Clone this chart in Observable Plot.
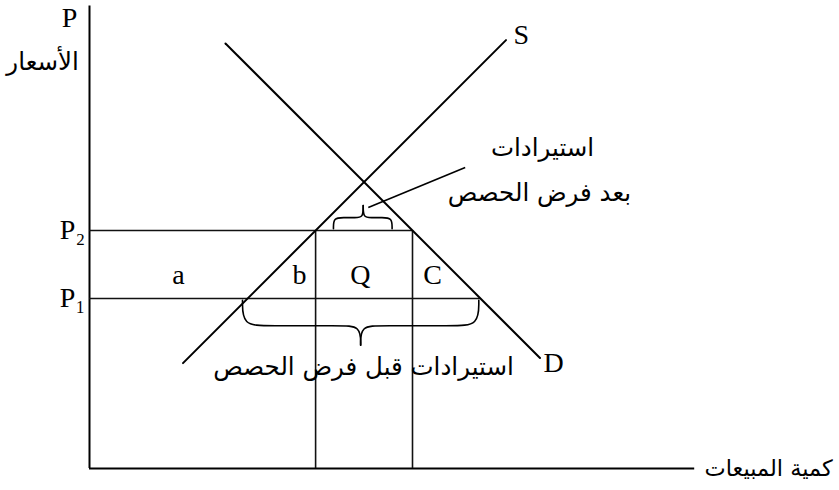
<!DOCTYPE html>
<html>
<head>
<meta charset="utf-8">
<script src="https://cdn.jsdelivr.net/npm/d3@7"></script>
<script src="https://cdn.jsdelivr.net/npm/@observablehq/plot@0.6"></script>
<style>
  html, body { margin: 0; padding: 0; background: #fff; }
  svg { display: block; }
</style>
</head>
<body>
<div id="chart"></div>
<script>
// ---- data (quantity q, price p) ----
const priceLevels = [14, 10];                 // P2, P1
const priceLabels = ["P\u2082", "P\u2081"];
const priceLineEnds = [19, 23];               // where P2 / P1 meet demand
const quotaQuantities = [13.3, 19];           // vertical lines at P2 (supply, demand)
const supplyQ = [5.5, 24.5];
const supplyP = [6.2, 25.2];
const demandQ = [8, 26.5];
const demandP = [25, 6.5];
const axisTopP = 27.2;
const axisEndQ = 35.6;
const areaLabels = ["a", "b", "Q", "C"];
const areaLabelQ = [5.24, 12.35, 15.94, 20.18];
const areaLabelP = 11.4;
// braces: [left q, tip q, right q, base p, middle p, tip p]
const lowerBrace = [9.0, 15.95, 22.9, 9.9, 8.4, 7.25];
const upperBrace = [14.35, 16.1, 17.8, 14.1, 14.76, 15.47];
const pointerQ = [16.4, 22.1];
const pointerP = [15.35, 17.7];
const curveNames = ["S", "D"];
const curveNameQ = [25.4, 27.3];
const curveNameP = [25.5, 6.2];
const textBefore = "استيرادات قبل فرض الحصص";
const textAfter1 = "استيرادات";
const textAfter2 = "بعد فرض الحصص";
const yTitle = "الأسعار";
const xTitle = "كمية المبيعات";

// ---- helper: brace outline points for a curve (shape only) ----
function braceHalves(b, id) {
  const [q0, qt, q1, base, mid, tip] = b;
  const r = Math.min(Math.abs(base - mid), (qt - q0) / 3);
  const half = (a, s) => [
    [a, base], [a, mid], [a + s * r, mid], [qt - s * r * 0.8, mid], [qt, mid], [qt, tip]
  ];
  return [
    ...half(q0, 1).map(([q, p]) => ({q, p, z: id + "L"})),
    ...half(q1, -1).map(([q, p]) => ({q, p, z: id + "R"}))
  ];
}
const braceData = [...braceHalves(lowerBrace, "low"), ...braceHalves(upperBrace, "up")];

const serif = "'Liberation Serif', 'Times New Roman', serif";
const arabic = "'DejaVu Sans', sans-serif";
const latinSize = 28;
const arabicSize = 24.5;

const chart = Plot.plot({
  width: 839,
  height: 490,
  margin: 0,
  style: {background: "#fff", color: "#000"},
  x: {domain: [-89 / 17, 750 / 17], axis: null},
  y: {domain: [-22 / 17, 468 / 17], axis: null},
  marks: [
    // axes
    Plot.ruleX([0], {y1: 0, y2: axisTopP, stroke: "#000", strokeWidth: 2}),
    Plot.ruleY([0], {x1: 0, x2: axisEndQ, stroke: "#000", strokeWidth: 2}),
    // price levels
    Plot.ruleY(priceLevels, {y: d => d, x1: 0, x2: (d, i) => priceLineEnds[i], stroke: "#111", strokeWidth: 1.6}),
    // quota verticals
    Plot.ruleX(quotaQuantities, {x: d => d, y1: 0, y2: priceLevels[0], stroke: "#111", strokeWidth: 1.6}),
    // supply and demand
    Plot.line(supplyQ.map((q, i) => ({q, p: supplyP[i]})), {x: "q", y: "p", stroke: "#000", strokeWidth: 2}),
    Plot.line(demandQ.map((q, i) => ({q, p: demandP[i]})), {x: "q", y: "p", stroke: "#000", strokeWidth: 2}),
    // braces
    Plot.line(braceData, {x: "q", y: "p", z: "z", curve: "basis", stroke: "#000", strokeWidth: 1.6}),
    // pointer
    Plot.link([0], {x1: pointerQ[0], y1: pointerP[0], x2: pointerQ[1], y2: pointerP[1], stroke: "#000", strokeWidth: 1.6}),
    // labels
    Plot.text(priceLabels, {x: -1.0, y: (d, i) => priceLevels[i], text: d => d, fontFamily: serif, fontSize: latinSize, fill: "#000"}),
    Plot.text(areaLabels, {x: (d, i) => areaLabelQ[i], y: areaLabelP, text: d => d, fontFamily: serif, fontSize: latinSize, fill: "#000"}),
    Plot.text(curveNames, {x: (d, i) => curveNameQ[i], y: (d, i) => curveNameP[i], text: d => d, fontFamily: serif, fontSize: latinSize, fill: "#000"}),
    Plot.text(["P"], {x: -1.18, y: 26.5, text: d => d, fontFamily: serif, fontSize: latinSize, fill: "#000"}),
    Plot.text([yTitle], {x: -2.76, y: 23.9, text: d => d, fontFamily: arabic, fontSize: arabicSize, fill: "#000"}),
    Plot.text([xTitle], {x: 39.95, y: 0, text: d => d, fontFamily: arabic, fontSize: 22.5, fill: "#000"}),
    Plot.text([textBefore], {x: 16.12, y: 5.94, text: d => d, fontFamily: arabic, fontSize: arabicSize, fill: "#000"}),
    Plot.text([textAfter1], {x: 26.65, y: 18.82, text: d => d, fontFamily: arabic, fontSize: arabicSize, fill: "#000"}),
    Plot.text([textAfter2], {x: 26.47, y: 16.18, text: d => d, fontFamily: arabic, fontSize: arabicSize, fill: "#000"})
  ]
});
document.getElementById("chart").appendChild(chart);
</script>
</body>
</html>
